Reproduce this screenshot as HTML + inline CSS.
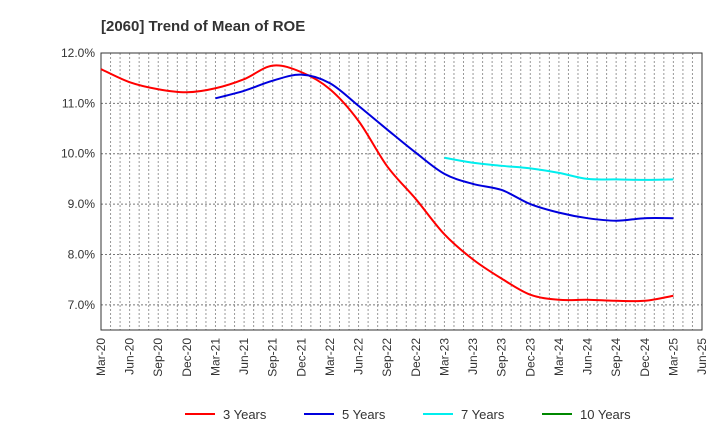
<!DOCTYPE html>
<html><head><meta charset="utf-8"><style>
body{margin:0;background:#fff;font-family:"Liberation Sans",Arial,sans-serif}
</style></head><body>
<svg id="c" width="720" height="440" xmlns="http://www.w3.org/2000/svg">
<text x="101" y="31" font-size="15" font-weight="bold" fill="#333">[2060]  Trend of Mean of ROE</text>
<g id="grid"></g><g id="axes"></g><g id="series"></g><g id="legend"></g>
</svg>
<script>
const xLabels=["Mar-20","Jun-20","Sep-20","Dec-20","Mar-21","Jun-21","Sep-21","Dec-21","Mar-22","Jun-22","Sep-22","Dec-22","Mar-23","Jun-23","Sep-23","Dec-23","Mar-24","Jun-24","Sep-24","Dec-24","Mar-25","Jun-25"];
const yTicks=[7,8,9,10,11,12];
const s3=[11.68,11.42,11.28,11.22,11.3,11.48,11.75,11.62,11.28,10.65,9.75,9.1,8.4,7.9,7.52,7.2,7.1,7.1,7.08,7.08,7.18];
const s5=[11.1,11.25,11.45,11.57,11.4,10.95,10.48,10.02,9.6,9.4,9.28,9.0,8.83,8.72,8.67,8.72,8.72];
const s7=[9.92,9.82,9.76,9.71,9.62,9.5,9.49,9.48,9.49];
const s10=[];
const NS="http://www.w3.org/2000/svg";
const L=101,R=702,T=53,B=330,ymin=6.5,ymax=12;
const xq=i=>L+(R-L)*i/21;
const y=v=>B-(v-ymin)/(ymax-ymin)*(B-T);
function mk(tag,attrs,parent,text){const e=document.createElementNS(NS,tag);for(const k in attrs)e.setAttribute(k,attrs[k]);if(text!==undefined)e.textContent=text;document.getElementById(parent).appendChild(e);return e;}
for(let m=1;m<63;m++){const x=L+(R-L)*m/63;const g=mk('line',{x1:x,x2:x,y1:T,y2:B,stroke:'#999','stroke-dasharray':'2,2','stroke-width':1},'grid');

}
yTicks.forEach(v=>{const g=mk('line',{x1:L,x2:R,y1:y(v),y2:y(v),stroke:'#777','stroke-dasharray':'2,2','stroke-width':1},'grid');


const t=mk('text',{x:L-6,y:y(v)+4,'text-anchor':'end','font-size':12,fill:'#333'},'axes',v.toFixed(1)+'%');

});
const fr=mk('rect',{x:L,y:T,width:R-L,height:B-T,fill:'none',stroke:'#333','stroke-width':1},'axes');


xLabels.forEach((l,i)=>{const x=xq(i);const t=mk('text',{x:0,y:0,'text-anchor':'end','font-size':12,fill:'#333',transform:`translate(${x+4},${B+8}) rotate(-90)`},'axes',l);

});
function path(arr,start){const p=arr.map((v,i)=>[xq(start+i),y(v)]);if(p.length<2)return '';let d=`M${p[0][0]},${p[0][1]}`;
for(let i=0;i<p.length-1;i++){const p0=p[i-1]||p[i],p1=p[i],p2=p[i+1],p3=p[i+2]||p2;
d+=` C${p1[0]+(p2[0]-p0[0])/6},${p1[1]+(p2[1]-p0[1])/6} ${p2[0]-(p3[0]-p1[0])/6},${p2[1]-(p3[1]-p1[1])/6} ${p2[0]},${p2[1]}`;}return d;}
[[s3,0,'#ff0000','series-3-years'],[s5,4,'#0000dd','series-5-years'],[s7,12,'#00eeee','series-7-years'],[s10,20,'#008800','series-10-years']].forEach(s=>{
if(s[0].length<2)return;const e=mk('path',{d:path(s[0],s[1]),fill:'none',stroke:s[2],'stroke-width':2},'series');

});
[['3 Years','#ff0000',185],['5 Years','#0000dd',304],['7 Years','#00eeee',423],['10 Years','#008800',542]].forEach(l=>{
const g=mk('g',{},'legend');


const ln=document.createElementNS(NS,'line');ln.setAttribute('x1',l[2]);ln.setAttribute('x2',l[2]+30);ln.setAttribute('y1',414);ln.setAttribute('y2',414);ln.setAttribute('stroke',l[1]);ln.setAttribute('stroke-width',2);g.appendChild(ln);
const t=document.createElementNS(NS,'text');t.setAttribute('x',l[2]+38);t.setAttribute('y',419);t.setAttribute('font-size',13);t.setAttribute('fill','#333');t.textContent=l[0];g.appendChild(t);});
</script>
</body></html>
